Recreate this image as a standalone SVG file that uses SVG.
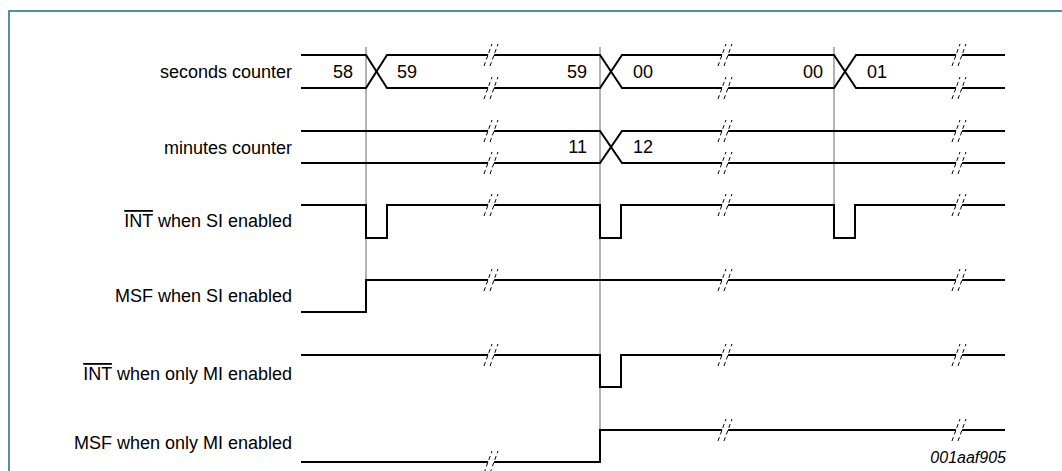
<svg xmlns="http://www.w3.org/2000/svg" xmlns:xlink="http://www.w3.org/1999/xlink" width="1062" height="471" viewBox="0 0 1062 471">
<style>
.sig{fill:none;stroke:#000;stroke-width:2;stroke-linejoin:miter}
.guide{fill:none;stroke:#666;stroke-width:1}
.lbl{font-family:"Liberation Sans",Arial,sans-serif;font-size:18px;fill:#000;text-anchor:end}
.val{font-family:"Liberation Sans",Arial,sans-serif;font-size:18px;fill:#000}
.ov{text-decoration:overline}
.frame{fill:none;stroke:#1b6e84;stroke-width:1.5}
.id{font-family:"Liberation Sans",Arial,sans-serif;font-size:16px;font-style:italic;fill:#000;text-anchor:end}
</style>
<defs>
<g id="brk">
<polygon points="-8,11 0,-11 6,-11 -2,11" fill="#fff"/>
<line x1="-8" y1="11" x2="0" y2="-11" stroke="#000" stroke-width="1" stroke-dasharray="4,3"/>
<line x1="-2" y1="11" x2="6" y2="-11" stroke="#000" stroke-width="1" stroke-dasharray="4,3"/>
</g>
</defs>
<rect width="1062" height="471" fill="#fff"/>
<path class="frame" d="M9,480 V11 H1070"/>

<g id="guides">
<line class="guide" x1="366" y1="47" x2="366" y2="281"/>
<line class="guide" x1="600" y1="47" x2="600" y2="430"/>
<line class="guide" x1="834" y1="47" x2="834" y2="238"/>
</g>

<g id="seconds-counter">
<text class="lbl" x="292" y="78">seconds counter</text>
<path class="sig" d="M301,55 H366 L387,88 H600 L622,55 H834 L856,88 H1005"/>
<path class="sig" d="M301,88 H366 L387,55 H600 L622,88 H834 L856,55 H1005"/>
<text class="val" x="353" y="78" text-anchor="end">58</text>
<text class="val" x="397" y="78">59</text>
<text class="val" x="587" y="78" text-anchor="end">59</text>
<text class="val" x="633" y="78">00</text>
<text class="val" x="823" y="78" text-anchor="end">00</text>
<text class="val" x="867" y="78">01</text>
<use xlink:href="#brk" x="492" y="55"/><use xlink:href="#brk" x="492" y="88"/>
<use xlink:href="#brk" x="726" y="55"/><use xlink:href="#brk" x="726" y="88"/>
<use xlink:href="#brk" x="960" y="55"/><use xlink:href="#brk" x="960" y="88"/>
</g>

<g id="minutes-counter">
<text class="lbl" x="292" y="154">minutes counter</text>
<path class="sig" d="M301,131 H600 L622,163 H1005"/>
<path class="sig" d="M301,163 H600 L622,131 H1005"/>
<text class="val" x="587" y="153" text-anchor="end">11</text>
<text class="val" x="633" y="153">12</text>
<use xlink:href="#brk" x="492" y="131"/><use xlink:href="#brk" x="492" y="163"/>
<use xlink:href="#brk" x="726" y="131"/><use xlink:href="#brk" x="726" y="163"/>
<use xlink:href="#brk" x="960" y="131"/><use xlink:href="#brk" x="960" y="163"/>
</g>

<g id="int-si">
<text class="lbl" x="292" y="227"><tspan class="ov">INT</tspan> when SI enabled</text>
<path class="sig" d="M301,205 H366 V238 H387 V205 H600 V238 H621 V205 H834 V238 H855 V205 H1005"/>
<use xlink:href="#brk" x="492" y="205"/>
<use xlink:href="#brk" x="726" y="205"/>
<use xlink:href="#brk" x="960" y="205"/>
</g>

<g id="msf-si">
<text class="lbl" x="292" y="302">MSF when SI enabled</text>
<path class="sig" d="M301,312 H366 V280 H1005"/>
<use xlink:href="#brk" x="492" y="280"/>
<use xlink:href="#brk" x="726" y="280"/>
<use xlink:href="#brk" x="960" y="280"/>
</g>

<g id="int-mi">
<text class="lbl" x="292" y="380"><tspan class="ov">INT</tspan> when only MI enabled</text>
<path class="sig" d="M301,355 H600 V387 H621 V355 H1005"/>
<use xlink:href="#brk" x="492" y="355"/>
<use xlink:href="#brk" x="726" y="355"/>
<use xlink:href="#brk" x="960" y="355"/>
</g>

<g id="msf-mi">
<text class="lbl" x="292" y="449">MSF when only MI enabled</text>
<path class="sig" d="M301,462 H600 V430 H1005"/>
<use xlink:href="#brk" x="492" y="462"/>
<use xlink:href="#brk" x="726" y="430"/>
<use xlink:href="#brk" x="960" y="430"/>
</g>

<text class="id" x="1006" y="463">001aaf905</text>
</svg>
